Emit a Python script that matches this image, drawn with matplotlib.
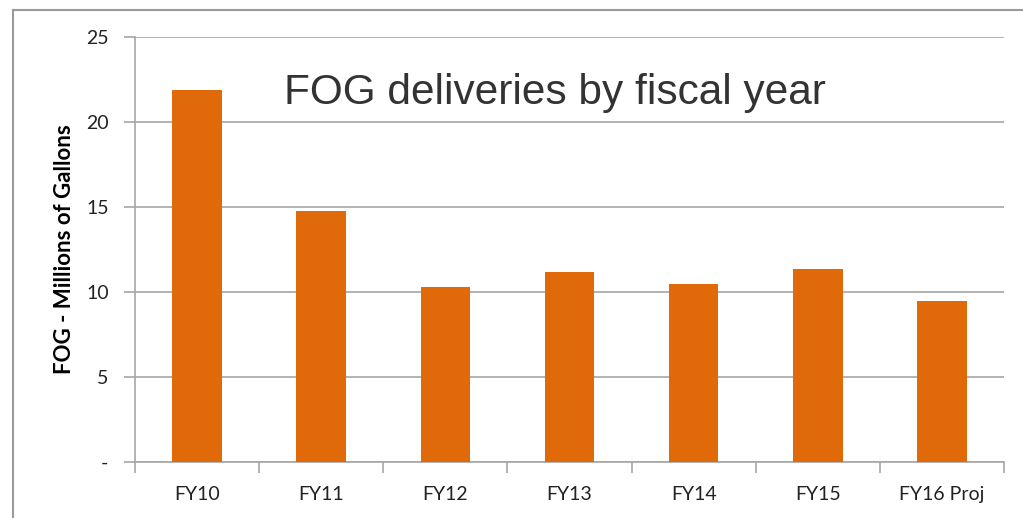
import matplotlib
matplotlib.use("Agg")
import matplotlib.pyplot as plt
from matplotlib.lines import Line2D

categories = ["FY10", "FY11", "FY12", "FY13", "FY14", "FY15", "FY16 Proj"]
values = [21.9, 14.75, 10.3, 11.2, 10.5, 11.35, 9.5]
yticks = [0, 5, 10, 15, 20, 25]
ytick_labels = ["-", "5", "10", "15", "20", "25"]

grid_c = "#A6A6A6"
bar_c = "#E0690A"

fig = plt.figure(figsize=(10.23, 5.18), dpi=100)
ax = fig.add_axes([135/1023, 56/518, (1004-135)/1023, (462-37)/518])

x = list(range(len(categories)))
ax.bar(x, values, width=0.4, color=bar_c, zorder=3)
ax.set_xlim(-0.5, len(categories) - 0.5)
ax.set_ylim(0, 25)
ax.set_yticks(yticks)
ax.set_yticklabels(ytick_labels, fontfamily="Lato", fontsize=14, color="#222222")
ax.set_xticks(x)
ax.set_xticklabels(categories, fontfamily="Lato", fontsize=14, color="#222222")
ax.set_xticks([i - 0.5 for i in range(len(categories) + 1)], minor=True)
ax.tick_params(axis="x", which="major", length=0, pad=17)
ax.tick_params(axis="x", which="minor", length=8, color=grid_c, width=1.2)
ax.tick_params(axis="y", length=8, color=grid_c, width=1.2, pad=11)
ax.yaxis.grid(True, color=grid_c, linewidth=1.2, zorder=0)
for s in ["top", "right"]:
    ax.spines[s].set_visible(False)
for s in ["left", "bottom"]:
    ax.spines[s].set_color(grid_c)
    ax.spines[s].set_linewidth(1.2)
ax.set_ylabel("FOG - Millions of Gallons", fontfamily="Lato", fontweight="bold",
              fontsize=16, labelpad=8)
ax.text((555 - 135) / (1004 - 135), (462 - 93) / (462 - 37), "FOG deliveries by fiscal year",
        transform=ax.transAxes, ha="center", va="center",
        fontfamily="Liberation Sans", fontsize=30.5, color="#333333", zorder=5)

fig.add_artist(Line2D([13/1023, 13/1023], [0, 1 - 10/518], transform=fig.transFigure,
                      color="#999999", linewidth=1.5))
fig.add_artist(Line2D([13/1023, 1], [1 - 10/518, 1 - 10/518], transform=fig.transFigure,
                      color="#999999", linewidth=1.5))

fig.savefig("out.png", dpi=100)
